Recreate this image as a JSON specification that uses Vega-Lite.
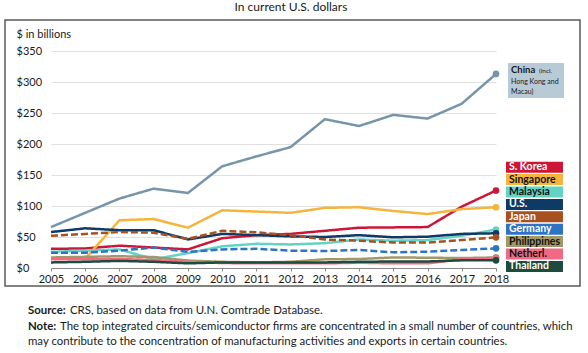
{
  "$schema": "https://vega.github.io/schema/vega-lite/v6.json",
  "width": 445,
  "height": 217,
  "autosize": {"type": "none"},
  "padding": {"left": 51, "top": 51, "right": 92, "bottom": 85},
  "background": "white",
  "config": {
    "view": {"stroke": null},
    "font": "Lato",
    "text": {"font": "Lato", "color": "#1a1a1a"},
    "axis": {"labelOverlap": false, "labelFont": "Lato", "labelFontSize": 11, "labelColor": "#1a1a1a"},
    "axisX": {
      "grid": false, "labelPadding": 2, "tickSize": 3, "tickColor": "#8a8a8a", "domainColor": "#8a8a8a", "labelFlush": false
    },
    "axisY": {
      "grid": true, "gridColor": "#e0e0e0", "gridWidth": 1, "labelAlign": "left", "labelPadding": 35, "ticks": false, "domain": false,
      "titleAngle": 0, "titleAlign": "left", "titleBaseline": "middle", "titleX": -35, "titleY": -17,
      "titleFont": "Lato", "titleFontSize": 11, "titleFontWeight": "normal", "titleColor": "#1a1a1a"
    }
  },
  "datasets": {
    "exports": [
      {"country": "China", "year": 2005, "value": 66}, {"country": "China", "year": 2006, "value": 89}, {"country": "China", "year": 2007, "value": 112}, {"country": "China", "year": 2008, "value": 128}, {"country": "China", "year": 2009, "value": 121}, {"country": "China", "year": 2010, "value": 164}, {"country": "China", "year": 2011, "value": 180}, {"country": "China", "year": 2012, "value": 195}, {"country": "China", "year": 2013, "value": 240}, {"country": "China", "year": 2014, "value": 229}, {"country": "China", "year": 2015, "value": 247}, {"country": "China", "year": 2016, "value": 241}, {"country": "China", "year": 2017, "value": 265}, {"country": "China", "year": 2018, "value": 313},
      {"country": "S. Korea", "year": 2005, "value": 31}, {"country": "S. Korea", "year": 2006, "value": 31.5}, {"country": "S. Korea", "year": 2007, "value": 36}, {"country": "S. Korea", "year": 2008, "value": 33}, {"country": "S. Korea", "year": 2009, "value": 30}, {"country": "S. Korea", "year": 2010, "value": 48}, {"country": "S. Korea", "year": 2011, "value": 53}, {"country": "S. Korea", "year": 2012, "value": 55}, {"country": "S. Korea", "year": 2013, "value": 60}, {"country": "S. Korea", "year": 2014, "value": 65}, {"country": "S. Korea", "year": 2015, "value": 65.5}, {"country": "S. Korea", "year": 2016, "value": 66}, {"country": "S. Korea", "year": 2017, "value": 99}, {"country": "S. Korea", "year": 2018, "value": 125},
      {"country": "Singapore", "year": 2005, "value": 15}, {"country": "Singapore", "year": 2006, "value": 15}, {"country": "Singapore", "year": 2007, "value": 77}, {"country": "Singapore", "year": 2008, "value": 79}, {"country": "Singapore", "year": 2009, "value": 65}, {"country": "Singapore", "year": 2010, "value": 93}, {"country": "Singapore", "year": 2011, "value": 91}, {"country": "Singapore", "year": 2012, "value": 89}, {"country": "Singapore", "year": 2013, "value": 97}, {"country": "Singapore", "year": 2014, "value": 98}, {"country": "Singapore", "year": 2015, "value": 92}, {"country": "Singapore", "year": 2016, "value": 87}, {"country": "Singapore", "year": 2017, "value": 95}, {"country": "Singapore", "year": 2018, "value": 98},
      {"country": "Malaysia", "year": 2005, "value": 26}, {"country": "Malaysia", "year": 2006, "value": 28}, {"country": "Malaysia", "year": 2007, "value": 30}, {"country": "Malaysia", "year": 2008, "value": 14}, {"country": "Malaysia", "year": 2009, "value": 24}, {"country": "Malaysia", "year": 2010, "value": 35}, {"country": "Malaysia", "year": 2011, "value": 39}, {"country": "Malaysia", "year": 2012, "value": 38}, {"country": "Malaysia", "year": 2013, "value": 40}, {"country": "Malaysia", "year": 2014, "value": 46}, {"country": "Malaysia", "year": 2015, "value": 44}, {"country": "Malaysia", "year": 2016, "value": 45}, {"country": "Malaysia", "year": 2017, "value": 52}, {"country": "Malaysia", "year": 2018, "value": 62},
      {"country": "U.S.", "year": 2005, "value": 58}, {"country": "U.S.", "year": 2006, "value": 64}, {"country": "U.S.", "year": 2007, "value": 61}, {"country": "U.S.", "year": 2008, "value": 61}, {"country": "U.S.", "year": 2009, "value": 46}, {"country": "U.S.", "year": 2010, "value": 55}, {"country": "U.S.", "year": 2011, "value": 53}, {"country": "U.S.", "year": 2012, "value": 51}, {"country": "U.S.", "year": 2013, "value": 50}, {"country": "U.S.", "year": 2014, "value": 53}, {"country": "U.S.", "year": 2015, "value": 49.5}, {"country": "U.S.", "year": 2016, "value": 50.5}, {"country": "U.S.", "year": 2017, "value": 55}, {"country": "U.S.", "year": 2018, "value": 56},
      {"country": "Japan", "year": 2005, "value": 52}, {"country": "Japan", "year": 2006, "value": 55}, {"country": "Japan", "year": 2007, "value": 58}, {"country": "Japan", "year": 2008, "value": 57}, {"country": "Japan", "year": 2009, "value": 47}, {"country": "Japan", "year": 2010, "value": 60}, {"country": "Japan", "year": 2011, "value": 57.5}, {"country": "Japan", "year": 2012, "value": 53}, {"country": "Japan", "year": 2013, "value": 46}, {"country": "Japan", "year": 2014, "value": 44}, {"country": "Japan", "year": 2015, "value": 41}, {"country": "Japan", "year": 2016, "value": 41}, {"country": "Japan", "year": 2017, "value": 45}, {"country": "Japan", "year": 2018, "value": 49.5},
      {"country": "Germany", "year": 2005, "value": 24.5}, {"country": "Germany", "year": 2006, "value": 24.7}, {"country": "Germany", "year": 2007, "value": 28}, {"country": "Germany", "year": 2008, "value": 33}, {"country": "Germany", "year": 2009, "value": 26}, {"country": "Germany", "year": 2010, "value": 30}, {"country": "Germany", "year": 2011, "value": 31}, {"country": "Germany", "year": 2012, "value": 28}, {"country": "Germany", "year": 2013, "value": 27.4}, {"country": "Germany", "year": 2014, "value": 29}, {"country": "Germany", "year": 2015, "value": 25.3}, {"country": "Germany", "year": 2016, "value": 26.3}, {"country": "Germany", "year": 2017, "value": 29}, {"country": "Germany", "year": 2018, "value": 31.7},
      {"country": "Philippines", "year": 2005, "value": 17}, {"country": "Philippines", "year": 2006, "value": 18}, {"country": "Philippines", "year": 2007, "value": 19}, {"country": "Philippines", "year": 2008, "value": 17.7}, {"country": "Philippines", "year": 2009, "value": 12}, {"country": "Philippines", "year": 2010, "value": 10}, {"country": "Philippines", "year": 2011, "value": 9}, {"country": "Philippines", "year": 2012, "value": 10}, {"country": "Philippines", "year": 2013, "value": 14}, {"country": "Philippines", "year": 2014, "value": 14.5}, {"country": "Philippines", "year": 2015, "value": 17}, {"country": "Philippines", "year": 2016, "value": 16.6}, {"country": "Philippines", "year": 2017, "value": 16}, {"country": "Philippines", "year": 2018, "value": 17},
      {"country": "Netherl.", "year": 2005, "value": 14}, {"country": "Netherl.", "year": 2006, "value": 14}, {"country": "Netherl.", "year": 2007, "value": 14.5}, {"country": "Netherl.", "year": 2008, "value": 13}, {"country": "Netherl.", "year": 2009, "value": 10}, {"country": "Netherl.", "year": 2010, "value": 8}, {"country": "Netherl.", "year": 2011, "value": 7.5}, {"country": "Netherl.", "year": 2012, "value": 7.5}, {"country": "Netherl.", "year": 2013, "value": 7.5}, {"country": "Netherl.", "year": 2014, "value": 8.5}, {"country": "Netherl.", "year": 2015, "value": 7.5}, {"country": "Netherl.", "year": 2016, "value": 7.5}, {"country": "Netherl.", "year": 2017, "value": 14}, {"country": "Netherl.", "year": 2018, "value": 16},
      {"country": "Thailand", "year": 2005, "value": 9}, {"country": "Thailand", "year": 2006, "value": 10}, {"country": "Thailand", "year": 2007, "value": 11.5}, {"country": "Thailand", "year": 2008, "value": 10}, {"country": "Thailand", "year": 2009, "value": 7.5}, {"country": "Thailand", "year": 2010, "value": 9}, {"country": "Thailand", "year": 2011, "value": 9}, {"country": "Thailand", "year": 2012, "value": 9}, {"country": "Thailand", "year": 2013, "value": 9}, {"country": "Thailand", "year": 2014, "value": 10}, {"country": "Thailand", "year": 2015, "value": 10.5}, {"country": "Thailand", "year": 2016, "value": 10.5}, {"country": "Thailand", "year": 2017, "value": 12.4}, {"country": "Thailand", "year": 2018, "value": 12.4}
    ]
  },
  "layer": [
    {
      "data": {"name": "exports"},
      "mark": {"type": "line", "strokeWidth": 2.5},
      "encoding": {
        "x": {
          "field": "year", "type": "quantitative",
          "scale": {"domain": [2005, 2018], "nice": false, "zero": false},
          "axis": {"values": [2005, 2006, 2007, 2008, 2009, 2010, 2011, 2012, 2013, 2014, 2015, 2016, 2017, 2018], "format": "d", "title": null, "labelOverlap": false, "grid": false}
        },
        "y": {
          "field": "value", "type": "quantitative",
          "scale": {"domain": [0, 350], "nice": false},
          "axis": {"values": [0, 50, 100, 150, 200, 250, 300, 350], "labelExpr": "'$' + datum.value", "title": "$ in billions", "labelOverlap": false, "grid": true}
        },
        "color": {
          "field": "country", "type": "nominal",
          "scale": {
            "domain": ["China", "S. Korea", "Singapore", "Malaysia", "U.S.", "Japan", "Germany", "Philippines", "Netherl.", "Thailand"],
            "range": ["#7795a9", "#cc1638", "#f5b43c", "#62d3c5", "#0d3b66", "#a6511f", "#2e73c4", "#a09868", "#f06a85", "#1d4b3d"]
          },
          "legend": {
            "orient": "none", "legendX": 455, "legendY": 110.7,
            "title": null, "padding": 0,
            "values": ["S. Korea", "Singapore", "Malaysia", "U.S.", "Japan", "Germany", "Philippines", "Netherl.", "Thailand"],
            "symbolType": "M-1,-1H9.36V1H-1Z",
            "symbolSize": 121, "symbolStrokeWidth": 0, "symbolOpacity": 1,
            "symbolFillColor": {"expr": "datum.value == 'Singapore' ? '#fbd37e' : datum.value == 'Malaysia' ? '#92e2d6' : datum.value == 'Netherl.' ? '#ee6482' : scale('color', datum.value)"},
            "labelFont": "Lato", "labelFontSize": 10.5, "labelFontWeight": "bold",
            "labelOffset": -8, "rowPadding": 1.4, "labelLimit": 0,
            "labelColor": {"expr": "indexof(['Singapore','Malaysia','Philippines','Netherl.'], datum.value) >= 0 ? '#111111' : '#ffffff'"}
          }
        },
        "strokeDash": {
          "field": "country", "type": "nominal",
          "scale": {
            "domain": ["China", "S. Korea", "Singapore", "Malaysia", "U.S.", "Japan", "Germany", "Philippines", "Netherl.", "Thailand"],
            "range": [[1, 0], [1, 0], [1, 0], [1, 0], [1, 0], [7, 3], [7, 3], [1, 0], [1, 0], [1, 0]]
          },
          "legend": null
        }
      }
    },
    {
      "data": {"name": "exports"},
      "transform": [{"filter": "datum.year == 2018"}],
      "mark": {"type": "point", "filled": true, "size": 45, "opacity": 1},
      "encoding": {
        "x": {"field": "year", "type": "quantitative", "axis": {"values": [2005, 2006, 2007, 2008, 2009, 2010, 2011, 2012, 2013, 2014, 2015, 2016, 2017, 2018], "format": "d", "title": null, "labelOverlap": false, "grid": false}},
        "y": {"field": "value", "type": "quantitative", "axis": {"values": [0, 50, 100, 150, 200, 250, 300, 350], "labelExpr": "'$' + datum.value", "title": "$ in billions", "labelOverlap": false, "grid": true}},
        "color": {"field": "country", "type": "nominal"}
      }
    },
    {
      "data": {"values": [{}]},
      "mark": {"type": "rect", "fill": null, "fillOpacity": 0, "stroke": "#5a5a5a", "strokeWidth": 1.5},
      "encoding": {
        "x": {"datum": 2003.656, "type": "quantitative", "axis": {"values": [2005, 2006, 2007, 2008, 2009, 2010, 2011, 2012, 2013, 2014, 2015, 2016, 2017, 2018], "format": "d", "title": null, "labelOverlap": false, "grid": false}},
        "x2": {"datum": 2020.454},
        "y": {"datum": 400, "type": "quantitative", "axis": {"values": [0, 50, 100, 150, 200, 250, 300, 350], "labelExpr": "'$' + datum.value", "title": "$ in billions", "labelOverlap": false, "grid": true}},
        "y2": {"datum": -29}
      }
    },
    {
      "data": {"values": [{}]},
      "mark": {"type": "rect", "fill": "#b7cad6"},
      "encoding": {
        "x": {"datum": 2018.351, "type": "quantitative", "axis": {"values": [2005, 2006, 2007, 2008, 2009, 2010, 2011, 2012, 2013, 2014, 2015, 2016, 2017, 2018], "format": "d", "title": null, "labelOverlap": false, "grid": false}},
        "x2": {"datum": 2019.987},
        "y": {"datum": 330.6, "type": "quantitative", "axis": {"values": [0, 50, 100, 150, 200, 250, 300, 350], "labelExpr": "'$' + datum.value", "title": "$ in billions", "labelOverlap": false, "grid": true}},
        "y2": {"datum": 274.2}
      }
    },
    {
      "data": {"values": [{}]},
      "mark": {"type": "text", "text": "China", "align": "left", "baseline": "alphabetic", "fontWeight": "bold", "fontSize": 9.5},
      "encoding": {
        "x": {"datum": 2018.439, "type": "quantitative", "axis": {"values": [2005, 2006, 2007, 2008, 2009, 2010, 2011, 2012, 2013, 2014, 2015, 2016, 2017, 2018], "format": "d", "title": null, "labelOverlap": false, "grid": false}},
        "y": {"datum": 315.3, "type": "quantitative", "axis": {"values": [0, 50, 100, 150, 200, 250, 300, 350], "labelExpr": "'$' + datum.value", "title": "$ in billions", "labelOverlap": false, "grid": true}}
      }
    },
    {
      "data": {"values": [{}]},
      "mark": {"type": "text", "text": "(incl.", "align": "left", "baseline": "alphabetic", "fontSize": 6.5, "dx": 28},
      "encoding": {
        "x": {"datum": 2018.439, "type": "quantitative", "axis": {"values": [2005, 2006, 2007, 2008, 2009, 2010, 2011, 2012, 2013, 2014, 2015, 2016, 2017, 2018], "format": "d", "title": null, "labelOverlap": false, "grid": false}},
        "y": {"datum": 315.3, "type": "quantitative", "axis": {"values": [0, 50, 100, 150, 200, 250, 300, 350], "labelExpr": "'$' + datum.value", "title": "$ in billions", "labelOverlap": false, "grid": true}}
      }
    },
    {
      "data": {"values": [{}]},
      "mark": {"type": "text", "text": "Hong Kong and", "align": "left", "baseline": "middle", "fontSize": 7},
      "encoding": {
        "x": {"datum": 2018.439, "type": "quantitative", "axis": {"values": [2005, 2006, 2007, 2008, 2009, 2010, 2011, 2012, 2013, 2014, 2015, 2016, 2017, 2018], "format": "d", "title": null, "labelOverlap": false, "grid": false}},
        "y": {"datum": 300.5, "type": "quantitative", "axis": {"values": [0, 50, 100, 150, 200, 250, 300, 350], "labelExpr": "'$' + datum.value", "title": "$ in billions", "labelOverlap": false, "grid": true}}
      }
    },
    {
      "data": {"values": [{}]},
      "mark": {"type": "text", "text": "Macau)", "align": "left", "baseline": "middle", "fontSize": 7},
      "encoding": {
        "x": {"datum": 2018.439, "type": "quantitative", "axis": {"values": [2005, 2006, 2007, 2008, 2009, 2010, 2011, 2012, 2013, 2014, 2015, 2016, 2017, 2018], "format": "d", "title": null, "labelOverlap": false, "grid": false}},
        "y": {"datum": 283.9, "type": "quantitative", "axis": {"values": [0, 50, 100, 150, 200, 250, 300, 350], "labelExpr": "'$' + datum.value", "title": "$ in billions", "labelOverlap": false, "grid": true}}
      }
    },
    {
      "data": {"values": [{}]},
      "mark": {"type": "text", "text": "In current U.S. dollars", "align": "center", "baseline": "middle", "fontSize": 12},
      "encoding": {
        "x": {"datum": 2012.01, "type": "quantitative", "axis": {"values": [2005, 2006, 2007, 2008, 2009, 2010, 2011, 2012, 2013, 2014, 2015, 2016, 2017, 2018], "format": "d", "title": null, "labelOverlap": false, "grid": false}},
        "y": {"datum": 421, "type": "quantitative", "axis": {"values": [0, 50, 100, 150, 200, 250, 300, 350], "labelExpr": "'$' + datum.value", "title": "$ in billions", "labelOverlap": false, "grid": true}}
      }
    },
    {
      "data": {"values": [{}]},
      "mark": {"type": "text", "text": "Source:", "align": "left", "baseline": "middle", "fontSize": 11.4, "fontWeight": "bold"},
      "encoding": {
        "x": {"datum": 2004.328, "type": "quantitative", "axis": {"values": [2005, 2006, 2007, 2008, 2009, 2010, 2011, 2012, 2013, 2014, 2015, 2016, 2017, 2018], "format": "d", "title": null, "labelOverlap": false, "grid": false}},
        "y": {"datum": -69.4, "type": "quantitative", "axis": {"values": [0, 50, 100, 150, 200, 250, 300, 350], "labelExpr": "'$' + datum.value", "title": "$ in billions", "labelOverlap": false, "grid": true}}
      }
    },
    {
      "data": {"values": [{}]},
      "mark": {"type": "text", "text": "CRS, based on data from U.N. Comtrade Database.", "align": "left", "baseline": "middle", "fontSize": 11.4, "dx": 42},
      "encoding": {
        "x": {"datum": 2004.328, "type": "quantitative", "axis": {"values": [2005, 2006, 2007, 2008, 2009, 2010, 2011, 2012, 2013, 2014, 2015, 2016, 2017, 2018], "format": "d", "title": null, "labelOverlap": false, "grid": false}},
        "y": {"datum": -69.4, "type": "quantitative", "axis": {"values": [0, 50, 100, 150, 200, 250, 300, 350], "labelExpr": "'$' + datum.value", "title": "$ in billions", "labelOverlap": false, "grid": true}}
      }
    },
    {
      "data": {"values": [{}]},
      "mark": {"type": "text", "text": "Note:", "align": "left", "baseline": "middle", "fontSize": 11.4, "fontWeight": "bold"},
      "encoding": {
        "x": {"datum": 2004.328, "type": "quantitative", "axis": {"values": [2005, 2006, 2007, 2008, 2009, 2010, 2011, 2012, 2013, 2014, 2015, 2016, 2017, 2018], "format": "d", "title": null, "labelOverlap": false, "grid": false}},
        "y": {"datum": -95.2, "type": "quantitative", "axis": {"values": [0, 50, 100, 150, 200, 250, 300, 350], "labelExpr": "'$' + datum.value", "title": "$ in billions", "labelOverlap": false, "grid": true}}
      }
    },
    {
      "data": {"values": [{}]},
      "mark": {"type": "text", "text": "The top integrated circuits/semiconductor firms are concentrated in a small number of countries, which", "align": "left", "baseline": "middle", "fontSize": 11.4, "dx": 32},
      "encoding": {
        "x": {"datum": 2004.328, "type": "quantitative", "axis": {"values": [2005, 2006, 2007, 2008, 2009, 2010, 2011, 2012, 2013, 2014, 2015, 2016, 2017, 2018], "format": "d", "title": null, "labelOverlap": false, "grid": false}},
        "y": {"datum": -95.2, "type": "quantitative", "axis": {"values": [0, 50, 100, 150, 200, 250, 300, 350], "labelExpr": "'$' + datum.value", "title": "$ in billions", "labelOverlap": false, "grid": true}}
      }
    },
    {
      "data": {"values": [{}]},
      "mark": {"type": "text", "text": "may contribute to the concentration of manufacturing activities and exports in certain countries.", "align": "left", "baseline": "middle", "fontSize": 11.4},
      "encoding": {
        "x": {"datum": 2004.328, "type": "quantitative", "axis": {"values": [2005, 2006, 2007, 2008, 2009, 2010, 2011, 2012, 2013, 2014, 2015, 2016, 2017, 2018], "format": "d", "title": null, "labelOverlap": false, "grid": false}},
        "y": {"datum": -119.4, "type": "quantitative", "axis": {"values": [0, 50, 100, 150, 200, 250, 300, 350], "labelExpr": "'$' + datum.value", "title": "$ in billions", "labelOverlap": false, "grid": true}}
      }
    }
  ]
}
